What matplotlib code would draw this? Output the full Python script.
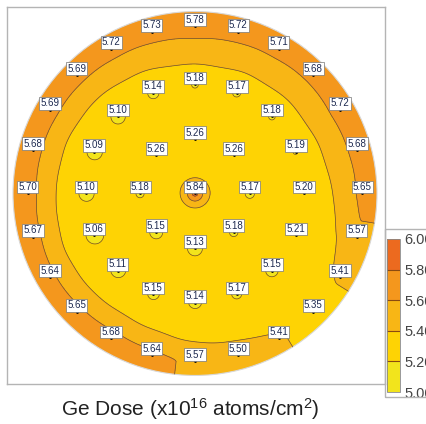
import numpy as np
import matplotlib.pyplot as plt
from matplotlib.patches import Circle, Rectangle

plt.rcParams['font.family'] = ['Liberation Sans', 'DejaVu Sans']
plt.rcParams['mathtext.default'] = 'regular'

# measured dose per site, rings listed clockwise starting at 12 o'clock
center_vals = [5.84]
ring1_vals = [5.26, 5.26, 5.17, 5.18, 5.13, 5.15, 5.18, 5.26]
ring2_vals = [5.18, 5.17, 5.18, 5.19, 5.20, 5.21, 5.15, 5.17,
              5.14, 5.15, 5.11, 5.06, 5.10, 5.09, 5.10, 5.14]
ring3_vals = [5.78, 5.72, 5.71, 5.68, 5.72, 5.68, 5.65, 5.57,
              5.41, 5.35, 5.41, 5.50, 5.57, 5.64, 5.68, 5.65,
              5.64, 5.67, 5.70, 5.68, 5.69, 5.69, 5.72, 5.73]
ring_radius = [0, 30, 60, 92]   # mm, 200 mm wafer

levels = [5.0, 5.2, 5.4, 5.6, 5.8, 6.0]
band_colors = ['#f2e41c', '#fed304', '#f8b615', '#f4971d', '#ec6a1f']

xs, ys, vs = [], [], []
for r, vals in zip(ring_radius, [center_vals, ring1_vals, ring2_vals, ring3_vals]):
    n = len(vals)
    for k, v in enumerate(vals):
        a = np.radians(90 - k * 360.0 / n)
        xs.append(r * np.cos(a))
        ys.append(r * np.sin(a))
        vs.append(v)
xs, ys, vs = np.array(xs), np.array(ys), np.array(vs)

# outer ring angles (deg) for extrapolating towards the wafer rim
edge_ang = (90 - np.arange(len(ring3_vals)) * 360.0 / len(ring3_vals)) % 360
edge_order = np.argsort(edge_ang)


def trend(px, py, smooth=15.0):
    # smoothed inverse distance weighting, blended into the outer ring near the rim
    d2 = (px[..., None] - xs) ** 2 + (py[..., None] - ys) ** 2
    w = 1.0 / (d2 + smooth ** 2)
    f = (w * vs).sum(-1) / w.sum(-1)
    rr = np.hypot(px, py)
    th = np.degrees(np.arctan2(py, px)) % 360
    edge = np.interp(th, edge_ang[edge_order], np.array(ring3_vals)[edge_order], period=360)
    t = np.clip((rr - 81.0) / 12.0, 0, 1)
    t = t * t * (3 - 2 * t)
    return (1 - t) * f + t * edge


g = np.linspace(-102, 102, 420)
gx, gy = np.meshgrid(g, g)
field = trend(gx, gy)
resid = vs - trend(xs, ys)
d2 = (gx[..., None] - xs) ** 2 + (gy[..., None] - ys) ** 2
field = field + (resid * np.exp(-d2 / (2 * 3.4 ** 2))).sum(-1)

fig = plt.figure(figsize=(4.26, 4.24), dpi=100)
ax = fig.add_axes([7 / 426, 40 / 424, 378 / 426, 377 / 424])
ax.set_xlim(-103.3, 104.4)
ax.set_ylim(-104.7, 102.5)

cs = ax.contourf(gx, gy, field, levels=levels, colors=band_colors)
clip = Circle((0, 0), 100, transform=ax.transData)
cs.set_clip_path(clip)
cl = ax.contour(gx, gy, field, levels=levels[1:-1], colors='#6a5030', linewidths=0.5)
cl.set_clip_path(clip)
ax.add_patch(Circle((0, 0), 100, fill=False, ec='#d8d8d8', lw=0.8))

ax.set_xticks([])
ax.set_yticks([])
for s in ax.spines.values():
    s.set_color('#b4b4b4')
    s.set_linewidth(1)

for x, y, v in zip(xs, ys, vs):
    ax.plot(x, y, 'k.', ms=2)
    ax.annotate(f'{v:.2f}', (x, y), xytext=(0, 1.0), textcoords='offset points',
                ha='center', va='bottom', fontsize=7, color='#1e2a50',
                bbox=dict(boxstyle='square,pad=0.14', fc='white', ec='#777777', lw=0.5))

# colour scale
cax = fig.add_axes([387 / 426, 32 / 424, 13 / 426, 153 / 424])
cb = fig.colorbar(cs, cax=cax, ticks=levels, format='%.2f')
cb.outline.set_edgecolor('#888888')
cb.outline.set_linewidth(0.6)
cax.tick_params(length=0, labelsize=10.5, labelcolor='#444444', pad=3)
for lv in levels[1:-1]:
    cax.axhline(lv, color='#8a4a10', lw=0.8)
fig.add_artist(Rectangle((385 / 426, 27 / 424), 50 / 426, 168 / 424,
                         transform=fig.transFigure, fill=False, ec='#b4b4b4', lw=1))

fig.text(190 / 426, 15 / 424, 'Ge Dose (x10$^{16}$ atoms/cm$^2$)',
         ha='center', va='center', fontsize=15, color='#222222')

fig.savefig('out.png', dpi=100, facecolor='white')
